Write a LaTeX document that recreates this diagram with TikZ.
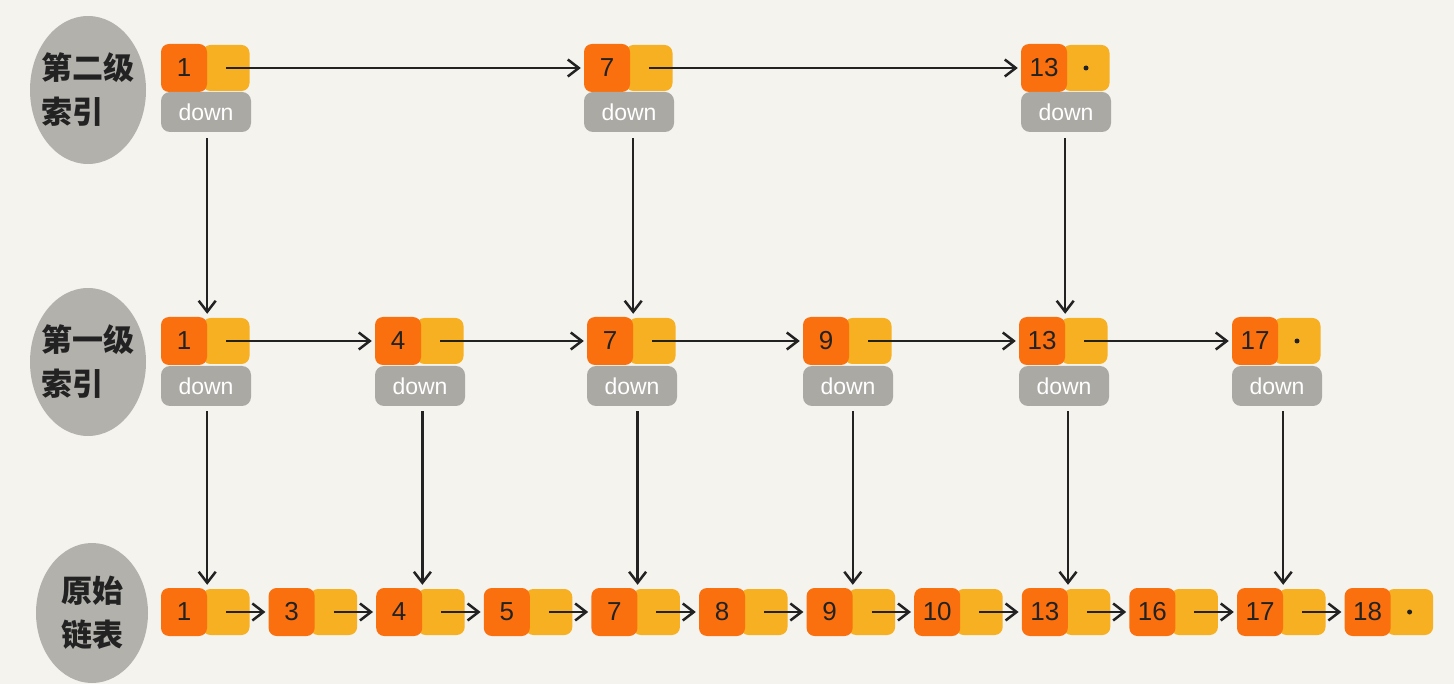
\documentclass[tikz,border=0pt]{standalone}
\usepackage{fontspec}
\setmainfont{Liberation Sans}
\newfontfamily\cjk{Noto Sans CJK SC}
\usetikzlibrary{arrows.meta,shapes.geometric}
\definecolor{bg}{HTML}{F5F3EE}
\definecolor{org}{HTML}{FA700F}
\definecolor{yel}{HTML}{F6B022}
\definecolor{gry}{HTML}{ABA9A4}
\definecolor{blobc}{HTML}{B3B1AC}
\definecolor{ink}{HTML}{222222}
\begin{document}
\begin{tikzpicture}[x=1pt,y=-1pt,
  okey/.style={rectangle, rounded corners=8pt, fill=org, minimum width=46pt, minimum height=48pt, inner sep=0pt, font=\fontsize{26}{26}\selectfont, text=ink},
  yval/.style={rectangle, rounded corners=8pt, fill=yel, minimum width=47pt, minimum height=46pt, inner sep=0pt},
  downbox/.style={rectangle, rounded corners=9pt, fill=gry, minimum width=90pt, minimum height=40pt, inner sep=0pt, text=white, font=\fontsize{23}{23}\selectfont},
  blob/.style={ellipse, fill=blobc, minimum width=116pt, minimum height=148pt, inner sep=-14pt, align=left, text=ink, font=\cjk\bfseries\fontsize{31}{44}\selectfont},
  link/.style={draw=ink, line width=2.5pt, -{Straight Barb[length=11pt,width=17pt]}, shorten >=3pt},
  nil/.style={circle, fill=ink, inner sep=0pt, minimum size=5pt}]
\fill[bg] (0,0) rectangle (1454,684);
\useasboundingbox (0,0) rectangle (1454,684);

% row labels
\node[blob] (lt) at (88,90) {第二级\\索引};
\node[blob] (lm) at (88,362) {第一级\\索引};
\node[blob, minimum height=140pt, minimum width=112pt] (lb) at (92,613) {原始\\链表};

% top level
\foreach \n/\px/\v in {0/161/1, 1/584/7, 2/1021/13} {
  \node[yval] (ty\n) at (\px+65,68) {};
  \node[okey] (to\n) at (\px+23,68) {\v};
  \node[downbox] (td\n) at (\px+45,112) {down};
}
% middle level
\foreach \n/\px/\v in {0/161/1, 1/375/4, 2/587/7, 3/803/9, 4/1019/13, 5/1232/17} {
  \node[yval] (my\n) at (\px+65,341) {};
  \node[okey] (mo\n) at (\px+23,341) {\v};
  \node[downbox] (md\n) at (\px+45,386) {down};
}
% bottom level
\foreach \n/\v in {0/1,1/3,2/4,3/5,4/7,5/8,6/9,7/10,8/13,9/16,10/17,11/18} {
  \pgfmathsetmacro\xo{161+107.6*\n}
  \node[yval] (by\n) at (\xo+65,612) {};
  \node[okey] (bo\n) at (\xo+23,612) {\v};
}

% nil pointers
\node[nil] (nt) at (ty2.center) {};
\node[nil] (nm) at (my5.center) {};
\node[nil] (nb) at (by11.center) {};

% horizontal links
\draw[link] (ty0.center) -- (to1.west);
\draw[link] (ty1.center) -- (to2.west);
\foreach \i/\j in {0/1,1/2,2/3,3/4,4/5}
  \draw[link] (my\i.center) -- (mo\j.west);
\foreach \i/\j in {0/1,1/2,2/3,3/4,4/5,5/6,6/7,7/8,8/9,9/10,10/11}
  \draw[link] (by\i.center) -- (bo\j.west);

% down links
\foreach \t/\m in {0/0,1/2,2/4}
  \draw[link, shorten <=6pt] (td\t.south -| mo\m.north east) -- (mo\m.north east);
\foreach \m/\b in {0/0,1/2,2/4,3/6,4/8,5/10}
  \draw[link, shorten <=5pt] (md\m.south -| bo\b.north east) -- (bo\b.north east);
\end{tikzpicture}
\end{document}
